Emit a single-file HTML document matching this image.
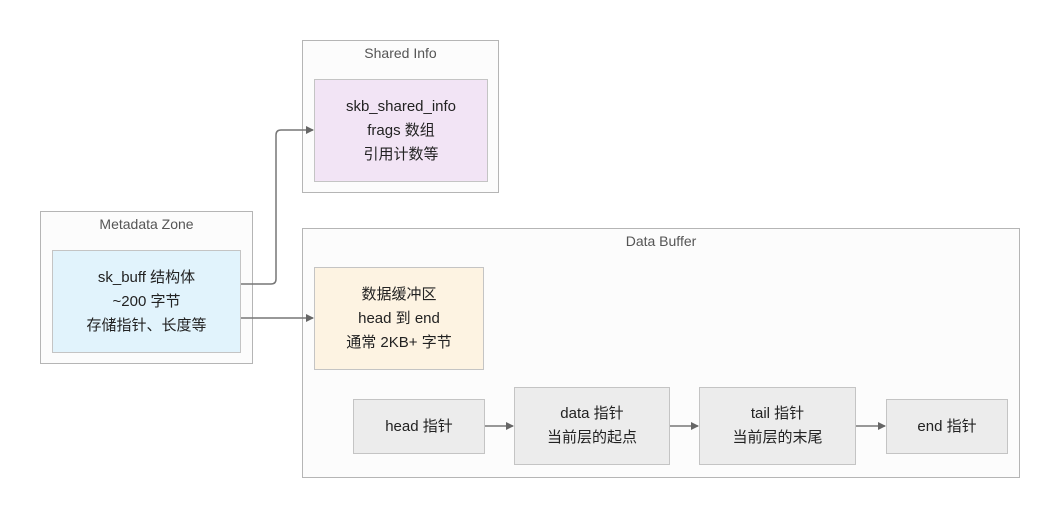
<!DOCTYPE html>
<html><head><meta charset="utf-8"><style>
body{margin:0;width:1060px;height:517px;background:#fff;position:relative;font-family:"Liberation Sans","Noto Sans CJK SC",sans-serif;overflow:hidden}
.g{position:absolute;border:1.5px solid #b5b5b5;background:#fcfcfc;box-sizing:border-box}
.t{position:absolute;left:0;right:0;text-align:center;font-size:14px;color:#555;top:4px}
.n{position:absolute;box-sizing:border-box;border:1.5px solid #c4c4c4;display:flex;align-items:center;justify-content:center;text-align:center;font-size:15px;line-height:24px;color:#222}
</style></head><body>
<div class="g" style="left:302px;top:40px;width:197px;height:153px"><div class="t">Shared Info</div></div>
<div class="g" style="left:40px;top:211px;width:213px;height:153px"><div class="t">Metadata Zone</div></div>
<div class="g" style="left:302px;top:228px;width:718px;height:250px"><div class="t">Data Buffer</div></div>
<div class="n" style="left:314px;top:79px;width:174px;height:103px;background:#f2e4f5">skb_shared_info<br>frags 数组<br>引用计数等</div>
<div class="n" style="left:52px;top:250px;width:189px;height:103px;background:#e1f3fc">sk_buff 结构体<br>~200 字节<br>存储指针、长度等</div>
<div class="n" style="left:314px;top:267px;width:170px;height:103px;background:#fdf3e2">数据缓冲区<br>head 到 end<br>通常 2KB+ 字节</div>
<div class="n" style="left:353px;top:399px;width:132px;height:55px;background:#ececec">head 指针</div>
<div class="n" style="left:514px;top:387px;width:156px;height:78px;background:#ececec">data 指针<br>当前层的起点</div>
<div class="n" style="left:699px;top:387px;width:157px;height:78px;background:#ececec">tail 指针<br>当前层的末尾</div>
<div class="n" style="left:886px;top:399px;width:122px;height:55px;background:#ececec">end 指针</div>
<svg width="1060" height="517" style="position:absolute;left:0;top:0">
<defs><marker id="a" markerWidth="8" markerHeight="8" refX="7" refY="4" orient="auto" markerUnits="userSpaceOnUse"><path d="M0,0L8,4L0,8z" fill="#666"/></marker></defs>
<g stroke="#777" stroke-width="1.5" fill="none" marker-end="url(#a)">
<path d="M241,284H271Q276,284 276,279V135Q276,130 281,130H313"/>
<path d="M241,318H313"/>
<path d="M485,426H513"/>
<path d="M670,426H698"/>
<path d="M856,426H885"/>
</g></svg>
</body></html>
